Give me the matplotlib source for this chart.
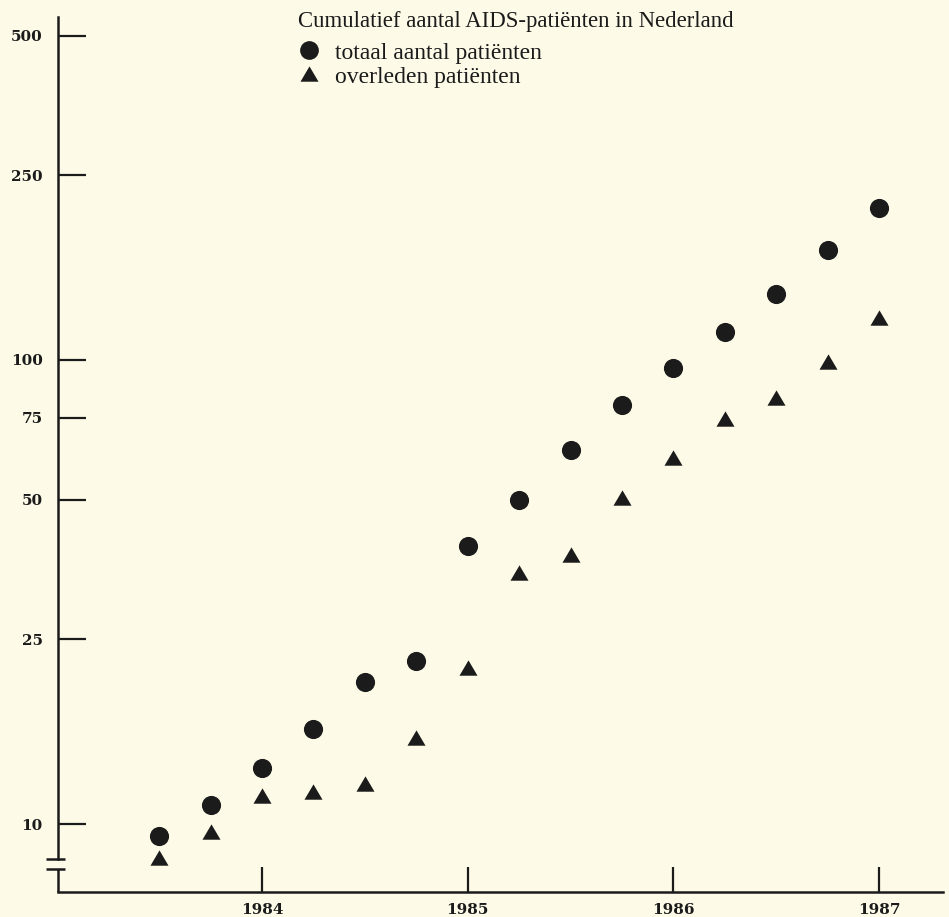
import matplotlib
matplotlib.use("Agg")
import matplotlib.pyplot as plt
from matplotlib.path import Path
from matplotlib.lines import Line2D

# ---- data ----
quarters = [1983.5, 1983.75, 1984.0, 1984.25, 1984.5, 1984.75, 1985.0, 1985.25,
            1985.5, 1985.75, 1986.0, 1986.25, 1986.5, 1986.75, 1987.0]
totaal = [9.4, 11.0, 13.2, 16.0, 20.2, 22.5, 39.7, 50.0, 64.0, 80.0, 96.0, 115.0, 139.0, 173.0, 213.0]
overleden = [8.45, 9.6, 11.5, 11.7, 12.2, 15.3, 21.7, 34.7, 38.0, 50.4, 61.5, 74.6, 83.0, 99.0, 123.0]
y_ticks = [10, 25, 50, 75, 100, 250, 500]
x_ticks = [1984, 1985, 1986, 1987]
title = "Cumulatief aantal AIDS-patiënten in Nederland"
labels = ["totaal aantal patiënten", "overleden patiënten"]

bg = "#fdfbe8"
ink = "#1b1b1b"

W, H = 949, 917
fig = plt.figure(figsize=(W / 100, H / 100), dpi=100, facecolor=bg)
left, right, bottom, top = 58, 943, 892, 17
ax = fig.add_axes([left / W, 1 - bottom / H, (right - left) / W, (bottom - top) / H])
ax.set_facecolor(bg)

ax.set_yscale("log")
ax.set_ylim(7.137, 548.5)
ax.set_xlim(1983.008, 1987.311)

tri = Path([(-1, -0.8), (1, -0.8), (0, 0.9), (-1, -0.8)],
           [Path.MOVETO, Path.LINETO, Path.LINETO, Path.CLOSEPOLY])

ax.plot(quarters, totaal, linestyle="none", marker="o", markersize=13.8,
        color=ink, markeredgewidth=0, clip_on=False)
ax.plot(quarters, overleden, linestyle="none", marker=tri, markersize=13,
        color=ink, markeredgewidth=0, clip_on=False)

# spines
for s in ["top", "right"]:
    ax.spines[s].set_visible(False)
for s in ["left", "bottom"]:
    ax.spines[s].set_linewidth(1.8)
    ax.spines[s].set_color(ink)

# axis break on y axis
y_break_hi = 10 * 10 ** (-(859 - 824) / 464)
y_break_lo = 10 * 10 ** (-(869 - 824) / 464)
ax.spines["left"].set_bounds(y_break_hi, 548.5)
ax.plot([1983.008, 1983.008], [7.137, y_break_lo], color=ink, lw=1.8,
        clip_on=False, solid_capstyle="butt")
x0 = 1983.008 - 12 / 205.67
x1 = 1983.008 + 7 / 205.67
for yb in (y_break_hi, y_break_lo):
    ax.plot([x0, x1], [yb, yb], color=ink, lw=1.8, clip_on=False,
            solid_capstyle="butt")

ax.set_yticks(y_ticks)
ax.set_yticklabels([str(v) for v in y_ticks])
ax.yaxis.set_minor_locator(matplotlib.ticker.NullLocator())
ax.set_xticks(x_ticks)
ax.set_xticklabels([str(v) for v in x_ticks])

ax.tick_params(axis="y", direction="in", length=20, width=1.6, color=ink,
               pad=11, labelsize=11, labelcolor=ink)
ax.tick_params(axis="x", direction="in", length=18, width=1.6, color=ink,
               pad=8, labelsize=11, labelcolor=ink)
for lab in ax.get_xticklabels() + ax.get_yticklabels():
    lab.set_fontfamily("DejaVu Serif")
    lab.set_fontweight("bold")

fig.text(298 / W, 1 - 27 / H, title, ha="left", va="baseline",
         family="Liberation Serif", fontsize=16.4, color=ink)

handles = [Line2D([], [], linestyle="none", marker="o", markersize=13.5, color=ink, markeredgewidth=0),
           Line2D([], [], linestyle="none", marker=tri, markersize=13, color=ink, markeredgewidth=0)]
leg = fig.legend(handles, labels, loc="upper left",
                 bbox_to_anchor=(298 / W, 1 - 42 / H), frameon=False,
                 prop={"family": "Liberation Serif", "size": 17},
                 borderpad=0, handlelength=0.95,
                 handletextpad=0.6, labelspacing=0.11, borderaxespad=0)
for t in leg.get_texts():
    t.set_color(ink)

fig.savefig("out.png", dpi=100, facecolor=bg)
